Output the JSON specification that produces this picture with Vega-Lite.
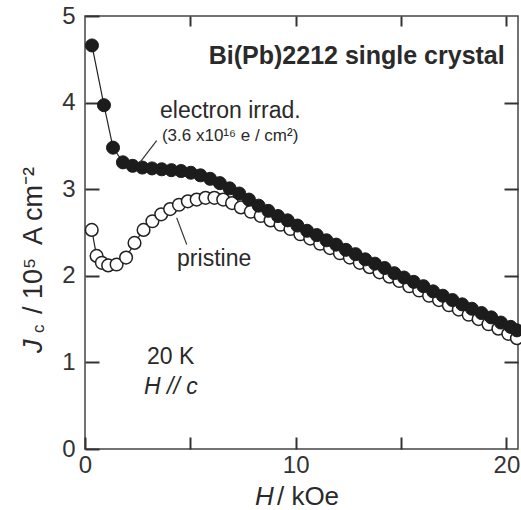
{
  "$schema": "https://vega.github.io/schema/vega-lite/v6.json",
  "width": 433,
  "height": 433,
  "autosize": {"type": "none"},
  "padding": {"left": 85, "top": 16, "right": 3, "bottom": 61},
  "background": "white",
  "config": {
    "view": {"stroke": "#444", "strokeWidth": 1.5},
    "axis": {"domain": false, "grid": false, "labelFont": "Liberation Sans", "labelFontSize": 24, "labelColor": "#333", "labelFlush": false, "title": null}
  },
  "datasets": {
    "irr": [
      {"H": 0.33, "J": 4.66}, {"H": 0.9, "J": 3.97}, {"H": 1.33, "J": 3.48}, {"H": 1.8, "J": 3.31},
      {"H": 2.26, "J": 3.27}, {"H": 2.72, "J": 3.25}, {"H": 3.18, "J": 3.24}, {"H": 3.64, "J": 3.23},
      {"H": 4.10, "J": 3.22}, {"H": 4.56, "J": 3.21}, {"H": 5.02, "J": 3.19}, {"H": 5.48, "J": 3.16},
      {"H": 5.94, "J": 3.12}, {"H": 6.40, "J": 3.07}, {"H": 6.86, "J": 3.01}, {"H": 7.32, "J": 2.95},
      {"H": 7.78, "J": 2.88}, {"H": 8.24, "J": 2.81}, {"H": 8.70, "J": 2.75}, {"H": 9.16, "J": 2.69},
      {"H": 9.62, "J": 2.64}, {"H": 10.08, "J": 2.58}, {"H": 10.54, "J": 2.52}, {"H": 11.00, "J": 2.47},
      {"H": 11.46, "J": 2.41}, {"H": 11.92, "J": 2.36}, {"H": 12.38, "J": 2.30}, {"H": 12.84, "J": 2.25},
      {"H": 13.30, "J": 2.19}, {"H": 13.76, "J": 2.14}, {"H": 14.22, "J": 2.09}, {"H": 14.68, "J": 2.03},
      {"H": 15.14, "J": 1.98}, {"H": 15.60, "J": 1.93}, {"H": 16.06, "J": 1.88}, {"H": 16.52, "J": 1.82},
      {"H": 16.98, "J": 1.77}, {"H": 17.44, "J": 1.72}, {"H": 17.90, "J": 1.67}, {"H": 18.36, "J": 1.62},
      {"H": 18.82, "J": 1.57}, {"H": 19.28, "J": 1.52}, {"H": 19.74, "J": 1.46}, {"H": 20.20, "J": 1.41},
      {"H": 20.50, "J": 1.37}
    ],
    "pri": [
      {"H": 0.32, "J": 2.53}, {"H": 0.55, "J": 2.23}, {"H": 0.8, "J": 2.15}, {"H": 1.1, "J": 2.12},
      {"H": 1.5, "J": 2.13}, {"H": 1.95, "J": 2.21}, {"H": 2.35, "J": 2.38}, {"H": 2.78, "J": 2.53},
      {"H": 3.2, "J": 2.63}, {"H": 3.62, "J": 2.71}, {"H": 4.04, "J": 2.77}, {"H": 4.46, "J": 2.82},
      {"H": 4.88, "J": 2.86}, {"H": 5.3, "J": 2.88}, {"H": 5.72, "J": 2.90}, {"H": 6.14, "J": 2.90},
      {"H": 6.56, "J": 2.88}, {"H": 6.98, "J": 2.84}, {"H": 7.4, "J": 2.79}, {"H": 7.87, "J": 2.74},
      {"H": 8.34, "J": 2.69}, {"H": 8.81, "J": 2.64}, {"H": 9.28, "J": 2.59}, {"H": 9.75, "J": 2.54},
      {"H": 10.22, "J": 2.48}, {"H": 10.69, "J": 2.43}, {"H": 11.16, "J": 2.37}, {"H": 11.63, "J": 2.32},
      {"H": 12.10, "J": 2.26}, {"H": 12.57, "J": 2.21}, {"H": 13.04, "J": 2.15}, {"H": 13.51, "J": 2.10},
      {"H": 13.98, "J": 2.04}, {"H": 14.45, "J": 1.99}, {"H": 14.92, "J": 1.94}, {"H": 15.39, "J": 1.88},
      {"H": 15.86, "J": 1.83}, {"H": 16.33, "J": 1.77}, {"H": 16.80, "J": 1.72}, {"H": 17.27, "J": 1.66},
      {"H": 17.74, "J": 1.61}, {"H": 18.21, "J": 1.55}, {"H": 18.68, "J": 1.50}, {"H": 19.15, "J": 1.44},
      {"H": 19.62, "J": 1.39}, {"H": 20.09, "J": 1.33}, {"H": 20.50, "J": 1.28}
    ],
    "notes": [
      {"H": 19.92, "J": 4.54, "text": "Bi(Pb)2212 single crystal", "group": "bold"},
      {"H": 3.56, "J": 3.90, "text": "electron irrad.", "group": "big"},
      {"H": 4.37, "J": 2.19, "text": "pristine", "group": "big"},
      {"H": 2.94, "J": 1.06, "text": "20 K", "group": "big"},
      {"H": 2.80, "J": 0.72, "text": "H // c", "group": "italic"},
      {"H": 3.65, "J": 3.61, "text": "(3.6  x10¹⁶ e / cm²)", "group": "small"},
      {"H": 9.11, "J": -0.554, "text": "/ kOe", "group": "xtitle"},
      {"H": 8.07, "J": -0.554, "text": "H", "group": "xtitleItalic"},
      {"H": -2.04, "J": 1.559, "text": "/ 10⁵", "group": "ytitle"},
      {"H": -2.04, "J": 2.356, "text": "A cm⁻²", "group": "ytitle"},
      {"H": -2.04, "J": 1.109, "text": "J", "group": "ytitleItalic"},
      {"H": -1.95, "J": 1.34, "text": "c", "group": "ysmall"}
    ],
    "leaders": [
      {"H": 3.40, "J": 3.56, "H2": 2.61, "J2": 3.31},
      {"H": 4.35, "J": 2.67, "H2": 4.83, "J2": 2.36}
    ]
  },
  "layer": [
    {
      "data": {"name": "pri"},
      "mark": {"type": "line", "color": "#222", "strokeWidth": 1.2},
      "encoding": {
        "x": {"field": "H", "type": "quantitative", "scale": {"domain": [0, 20.55], "nice": false, "zero": false},
              "axis": {"orient": "bottom", "values": [0, 5, 10, 15, 20], "labelExpr": "datum.value % 10 === 0 ? datum.label : ''", "ticks": true, "tickColor": "#333", "tickWidth": 2, "tickSize": -12, "labelPadding": 16}},
        "y": {"field": "J", "type": "quantitative", "scale": {"domain": [0, 5], "nice": false},
              "axis": {"orient": "left", "values": [0, 1, 2, 3, 4, 5], "format": "d", "ticks": true, "tickColor": "#333", "tickWidth": 2, "tickSize": -14, "labelPadding": 24}}
      }
    },
    {
      "data": {"name": "pri"},
      "mark": {"type": "point", "shape": "circle", "filled": true, "fill": "white", "stroke": "#222", "strokeWidth": 1.5, "size": 160, "opacity": 1},
      "encoding": {
        "x": {"field": "H", "type": "quantitative", "axis": {"orient": "top", "values": [5, 10, 15, 20], "ticks": true, "tickColor": "#333", "tickWidth": 2, "tickSize": -10, "labels": false}},
        "y": {"field": "J", "type": "quantitative", "axis": {"orient": "right", "values": [1, 2, 3, 4], "ticks": true, "tickColor": "#333", "tickWidth": 2, "tickSize": -14, "labels": false}}
      }
    },
    {
      "data": {"name": "irr"},
      "mark": {"type": "line", "color": "#222", "strokeWidth": 1.2},
      "encoding": {
        "x": {"field": "H", "type": "quantitative", "axis": null},
        "y": {"field": "J", "type": "quantitative", "axis": null}
      }
    },
    {
      "data": {"name": "irr"},
      "mark": {"type": "point", "shape": "circle", "filled": true, "fill": "#1c1c1c", "stroke": "#1c1c1c", "strokeWidth": 1, "size": 170, "opacity": 1},
      "encoding": {
        "x": {"field": "H", "type": "quantitative", "axis": null},
        "y": {"field": "J", "type": "quantitative", "axis": null}
      }
    },
    {
      "data": {"name": "leaders"},
      "mark": {"type": "rule", "color": "#333", "strokeWidth": 1.2},
      "encoding": {
        "x": {"field": "H", "type": "quantitative", "axis": null},
        "y": {"field": "J", "type": "quantitative", "axis": null},
        "x2": {"field": "H2"},
        "y2": {"field": "J2"}
      }
    },
    {
      "data": {"name": "notes"},
      "transform": [{"filter": "datum.group === 'bold'"}],
      "mark": {"type": "text", "font": "Liberation Sans", "fontSize": 25, "fontWeight": "bold", "align": "right", "baseline": "middle", "color": "#2a2a2a"},
      "encoding": {"x": {"field": "H", "type": "quantitative", "axis": null}, "y": {"field": "J", "type": "quantitative", "axis": null}, "text": {"field": "text"}}
    },
    {
      "data": {"name": "notes"},
      "transform": [{"filter": "datum.group === 'big'"}],
      "mark": {"type": "text", "font": "Liberation Sans", "fontSize": 23, "align": "left", "baseline": "middle", "color": "#2a2a2a"},
      "encoding": {"x": {"field": "H", "type": "quantitative", "axis": null}, "y": {"field": "J", "type": "quantitative", "axis": null}, "text": {"field": "text"}}
    },
    {
      "data": {"name": "notes"},
      "transform": [{"filter": "datum.group === 'italic'"}],
      "mark": {"type": "text", "font": "Liberation Sans", "fontSize": 23, "fontStyle": "italic", "align": "left", "baseline": "middle", "color": "#2a2a2a"},
      "encoding": {"x": {"field": "H", "type": "quantitative", "axis": null}, "y": {"field": "J", "type": "quantitative", "axis": null}, "text": {"field": "text"}}
    },
    {
      "data": {"name": "notes"},
      "transform": [{"filter": "datum.group === 'small'"}],
      "mark": {"type": "text", "font": "Liberation Sans", "fontSize": 17, "align": "left", "baseline": "middle", "color": "#2a2a2a"},
      "encoding": {"x": {"field": "H", "type": "quantitative", "axis": null}, "y": {"field": "J", "type": "quantitative", "axis": null}, "text": {"field": "text"}}
    },
    {
      "data": {"name": "notes"},
      "transform": [{"filter": "datum.group === 'xtitle'"}],
      "mark": {"type": "text", "font": "Liberation Sans", "fontSize": 26, "align": "left", "baseline": "middle", "color": "#2a2a2a"},
      "encoding": {"x": {"field": "H", "type": "quantitative", "axis": null}, "y": {"field": "J", "type": "quantitative", "axis": null}, "text": {"field": "text"}}
    },
    {
      "data": {"name": "notes"},
      "transform": [{"filter": "datum.group === 'xtitleItalic'"}],
      "mark": {"type": "text", "font": "Liberation Sans", "fontSize": 26, "fontStyle": "italic", "align": "left", "baseline": "middle", "color": "#2a2a2a"},
      "encoding": {"x": {"field": "H", "type": "quantitative", "axis": null}, "y": {"field": "J", "type": "quantitative", "axis": null}, "text": {"field": "text"}}
    },
    {
      "data": {"name": "notes"},
      "transform": [{"filter": "datum.group === 'ytitle'"}],
      "mark": {"type": "text", "font": "Liberation Sans", "fontSize": 27, "angle": 270, "align": "left", "baseline": "alphabetic", "color": "#2a2a2a"},
      "encoding": {"x": {"field": "H", "type": "quantitative", "axis": null}, "y": {"field": "J", "type": "quantitative", "axis": null}, "text": {"field": "text"}}
    },
    {
      "data": {"name": "notes"},
      "transform": [{"filter": "datum.group === 'ytitleItalic'"}],
      "mark": {"type": "text", "font": "Liberation Sans", "fontSize": 27, "fontStyle": "italic", "angle": 270, "align": "left", "baseline": "alphabetic", "color": "#2a2a2a"},
      "encoding": {"x": {"field": "H", "type": "quantitative", "axis": null}, "y": {"field": "J", "type": "quantitative", "axis": null}, "text": {"field": "text"}}
    },
    {
      "data": {"name": "notes"},
      "transform": [{"filter": "datum.group === 'ysmall'"}],
      "mark": {"type": "text", "font": "Liberation Sans", "fontSize": 17, "angle": 270, "align": "left", "baseline": "alphabetic", "color": "#2a2a2a"},
      "encoding": {"x": {"field": "H", "type": "quantitative", "axis": null}, "y": {"field": "J", "type": "quantitative", "axis": null}, "text": {"field": "text"}}
    }
  ],
  "resolve": {"axis": {"x": "independent", "y": "independent"}}
}
